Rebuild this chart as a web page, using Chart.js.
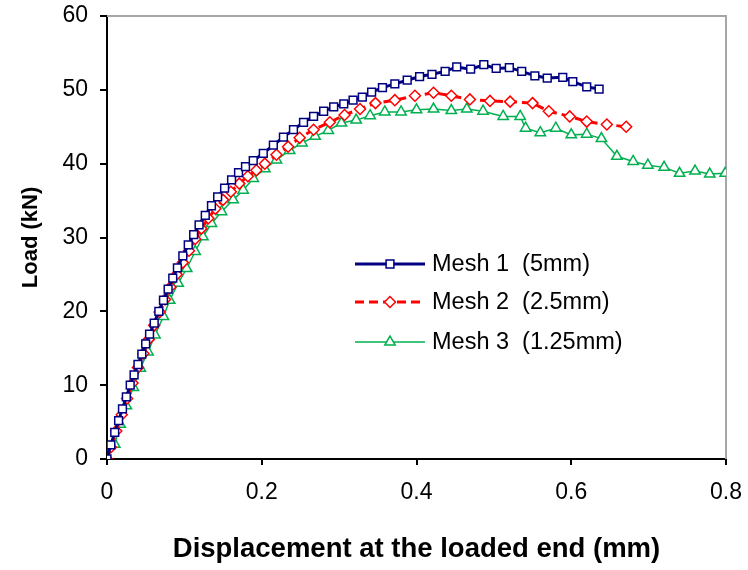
<!DOCTYPE html>
<html>
<head>
<meta charset="utf-8">
<script src="https://cdn.jsdelivr.net/npm/chart.js@4.4.1/dist/chart.umd.min.js"></script>
<style>
  html, body { margin: 0; padding: 0; background: #fff; }
  #wrap { width: 748px; height: 570px; }
</style>
</head>
<body>
<div id="wrap"><canvas id="chart" width="748" height="570"></canvas></div>
<script>
// --- data (displacement mm, load kN) ---
const mesh1X = [0, 0.005, 0.010, 0.015, 0.020, 0.025, 0.030, 0.035, 0.040, 0.045, 0.050, 0.055, 0.061, 0.067, 0.073, 0.079, 0.085, 0.091, 0.098, 0.105, 0.112, 0.119, 0.127, 0.135, 0.143, 0.152, 0.161, 0.170, 0.179, 0.189, 0.202, 0.215, 0.228, 0.241, 0.254, 0.267, 0.280, 0.293, 0.306, 0.318, 0.330, 0.342, 0.356, 0.372, 0.388, 0.404, 0.420, 0.437, 0.452, 0.470, 0.487, 0.503, 0.520, 0.536, 0.553, 0.569, 0.589, 0.602, 0.620, 0.636];
const mesh1Y = [0, 1.9, 3.6, 5.2, 6.8, 8.4, 10.0, 11.4, 12.8, 14.2, 15.6, 16.9, 18.4, 20.0, 21.5, 23.0, 24.5, 25.9, 27.5, 29.0, 30.4, 31.7, 33.0, 34.3, 35.5, 36.7, 37.8, 38.8, 39.6, 40.4, 41.4, 42.5, 43.6, 44.6, 45.6, 46.4, 47.1, 47.7, 48.1, 48.6, 49.0, 49.7, 50.3, 50.8, 51.3, 51.8, 52.1, 52.5, 53.1, 52.8, 53.4, 52.9, 53.0, 52.5, 51.9, 51.6, 51.7, 51.1, 50.4, 50.1];

const mesh2X = [0, 0.005, 0.012, 0.019, 0.026, 0.033, 0.040, 0.047, 0.054, 0.061, 0.068, 0.075, 0.082, 0.090, 0.098, 0.106, 0.114, 0.122, 0.131, 0.140, 0.150, 0.160, 0.171, 0.182, 0.193, 0.204, 0.219, 0.234, 0.249, 0.267, 0.288, 0.307, 0.327, 0.347, 0.372, 0.398, 0.422, 0.445, 0.469, 0.495, 0.521, 0.550, 0.571, 0.598, 0.620, 0.646, 0.671];
const mesh2Y = [0, 1.6, 3.8, 6.0, 8.2, 10.3, 12.4, 14.3, 16.2, 18.1, 19.9, 21.6, 23.3, 25.0, 26.6, 28.2, 29.8, 31.2, 32.6, 33.9, 35.1, 36.2, 37.3, 38.3, 39.1, 40.0, 41.2, 42.3, 43.5, 44.6, 45.6, 46.6, 47.4, 48.2, 48.6, 49.2, 49.6, 49.2, 48.7, 48.5, 48.4, 48.2, 47.1, 46.4, 45.7, 45.3, 45.0];

const mesh3X = [0, 0.010, 0.017, 0.025, 0.034, 0.043, 0.053, 0.062, 0.073, 0.081, 0.092, 0.103, 0.114, 0.124, 0.135, 0.148, 0.163, 0.176, 0.189, 0.204, 0.219, 0.236, 0.252, 0.269, 0.286, 0.303, 0.322, 0.340, 0.359, 0.380, 0.400, 0.422, 0.445, 0.465, 0.486, 0.512, 0.534, 0.541, 0.560, 0.580, 0.600, 0.620, 0.639, 0.659, 0.680, 0.699, 0.720, 0.740, 0.760, 0.779, 0.799];
const mesh3Y = [0, 2.0, 4.7, 7.2, 9.7, 12.3, 14.5, 16.8, 19.3, 21.5, 23.8, 25.8, 28.1, 30.1, 31.9, 33.5, 35.1, 36.4, 38.0, 39.3, 40.5, 41.8, 42.8, 43.7, 44.5, 45.5, 45.9, 46.5, 47.0, 47.0, 47.3, 47.4, 47.2, 47.4, 47.1, 46.4, 46.4, 44.8, 44.2, 44.8, 43.9, 44.0, 43.4, 41.0, 40.3, 39.8, 39.5, 38.7, 39.0, 38.6, 38.7];

const seriesNames = ['Mesh 1  (5mm)', 'Mesh 2  (2.5mm)', 'Mesh 3  (1.25mm)'];
const xTicks = [0, 0.2, 0.4, 0.6, 0.8];
const yTicks = [0, 10, 20, 30, 40, 50, 60];

const FONT = "'Liberation Sans', Arial, sans-serif";
const NARROW = "'Liberation Sans Narrow', 'Arial Narrow', 'Liberation Sans', sans-serif";

function pts(xs, ys) {
  return xs.map((x, i) => ({ x: x, y: ys[i] }));
}

// legend drawn inside the plot, like the original
const insideLegend = {
  id: 'insideLegend',
  afterDraw(chart) {
    const ctx = chart.ctx;
    const x0 = 355, x1 = 425, tx = 432;
    const rows = [264, 302, 342];
    ctx.save();
    chart.data.datasets.forEach((ds, i) => {
      const y = rows[i];
      ctx.strokeStyle = ds.borderColor;
      ctx.lineWidth = ds.borderWidth;
      ctx.setLineDash(ds.borderDash || []);
      ctx.beginPath();
      ctx.moveTo(x0, y);
      ctx.lineTo(x1, y);
      ctx.stroke();
      ctx.setLineDash([]);
      ctx.fillStyle = '#ffffff';
      ctx.strokeStyle = ds.pointBorderColor;
      ctx.lineWidth = ds.pointBorderWidth;
      Chart.helpers.drawPoint(ctx, {
        pointStyle: ds.pointStyle,
        radius: ds.pointRadius,
        borderWidth: ds.pointBorderWidth
      }, (x0 + x1) / 2, y);
      ctx.fillStyle = '#000';
      ctx.font = '23.5px ' + FONT;
      ctx.textBaseline = 'middle';
      ctx.textAlign = 'left';
      ctx.fillText(ds.label, tx, y + 1);
    });
    ctx.restore();
  }
};

// grey top and right frame lines
const frame = {
  id: 'frame',
  beforeDatasetsDraw(chart) {
    const { ctx, chartArea: a } = chart;
    ctx.save();
    ctx.strokeStyle = '#a6a6a6';
    ctx.lineWidth = 2;
    ctx.beginPath();
    ctx.moveTo(a.left, a.top);
    ctx.lineTo(a.right, a.top);
    ctx.lineTo(a.right, a.bottom);
    ctx.stroke();
    ctx.restore();
  }
};

new Chart(document.getElementById('chart'), {
  type: 'scatter',
  data: {
    datasets: [
      {
        label: seriesNames[0],
        data: pts(mesh1X, mesh1Y),
        showLine: true,
        borderColor: '#000080',
        backgroundColor: '#ffffff',
        borderWidth: 3,
        pointStyle: 'rect',
        pointRadius: 5.5,
        pointBorderWidth: 1.5,
        pointBorderColor: '#000080',
        pointBackgroundColor: '#ffffff',
        order: 1
      },
      {
        label: seriesNames[1],
        data: pts(mesh2X, mesh2Y),
        showLine: true,
        borderColor: '#ff0000',
        backgroundColor: '#ffffff',
        borderWidth: 3,
        borderDash: [9, 5],
        pointStyle: 'rectRot',
        pointRadius: 5.5,
        pointBorderWidth: 1.5,
        pointBorderColor: '#ff0000',
        pointBackgroundColor: '#ffffff',
        order: 2
      },
      {
        label: seriesNames[2],
        data: pts(mesh3X, mesh3Y),
        showLine: true,
        borderColor: '#00b050',
        backgroundColor: '#ffffff',
        borderWidth: 1.5,
        pointStyle: 'triangle',
        pointRadius: 6,
        pointBorderWidth: 1.5,
        pointBorderColor: '#00b050',
        pointBackgroundColor: '#ffffff',
        order: 3
      }
    ]
  },
  options: {
    responsive: false,
    animation: false,
    layout: { padding: { top: 16, right: 22, left: 0, bottom: 0 } },
    plugins: {
      legend: { display: false },
      tooltip: { enabled: false }
    },
    scales: {
      x: {
        type: 'linear',
        min: 0,
        max: 0.8,
        afterBuildTicks: s => { s.ticks = xTicks.map(v => ({ value: v })); },
        afterFit: s => { s.height = 111; s.paddingLeft = 0; s.paddingRight = 0; },
        border: { color: '#000', width: 2 },
        grid: { drawOnChartArea: false, drawTicks: true, tickLength: 6, color: '#000', lineWidth: 2 },
        ticks: {
          color: '#000',
          padding: 14,
          font: { family: NARROW, size: 23 },
          callback: v => v === 0 ? '0' : v.toFixed(1)
        },
        title: {
          display: true,
          text: 'Displacement at the loaded end (mm)',
          color: '#000',
          padding: { top: 12 },
          font: { family: FONT, size: 27.5, weight: 'bold' }
        }
      },
      y: {
        min: 0,
        max: 60,
        afterBuildTicks: s => { s.ticks = yTicks.map(v => ({ value: v })); },
        afterFit: s => { s.width = 107; s.paddingTop = 0; s.paddingBottom = 0; },
        border: { color: '#000', width: 2 },
        grid: { drawOnChartArea: false, drawTicks: true, tickLength: 7, color: '#000', lineWidth: 2 },
        ticks: {
          color: '#000',
          padding: 12,
          font: { family: NARROW, size: 23 },
          callback: v => String(v)
        },
        title: {
          display: true,
          text: 'Load (kN)',
          color: '#000',
          padding: { top: 18, bottom: 0 },
          font: { family: FONT, size: 22, weight: 'bold' }
        }
      }
    }
  },
  plugins: [frame, insideLegend]
});
</script>
</body>
</html>
